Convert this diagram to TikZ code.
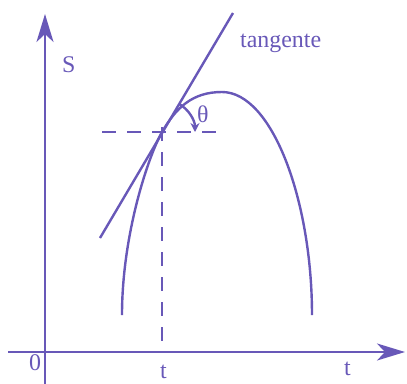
\documentclass[tikz,border=0pt]{standalone}
\usepackage{fontspec}
\setmainfont{Liberation Serif}
\usetikzlibrary{arrows.meta}
\definecolor{pur}{RGB}{104,88,184}
\begin{document}
\begin{tikzpicture}[x=1bp,y=-1bp,
  line/.style={draw=pur,line width=2.4bp},
  dsh/.style={line,dash pattern=on 14bp off 11bp},
  lbl/.style={text=pur,font=\fontsize{24}{28}\selectfont,inner sep=0pt,anchor=base west},
  tip/.style={-{Stealth[length=28bp,width=17bp,inset=8bp]}}]
\useasboundingbox (0,0) rectangle (407,384);
\coordinate (ybot) at (45,384);
\coordinate (ytop) at (45,14);
\coordinate (xl) at (8,352);
\coordinate (xr) at (405,352);
\coordinate (P) at (162,132);
\coordinate (Pt) at (162,352);
\coordinate (vt) at (162,127);
\coordinate (hl) at (102,132);
\coordinate (hr) at (217,132);
\coordinate (tl) at (100,238);
\coordinate (tr) at (233,13);
\coordinate (c0) at (122,315);
\coordinate (peak) at (222,92);
\coordinate (c1) at (312,315);
\draw[line,tip] (ybot) -- (ytop);
\draw[line,tip] (xl) -- (xr);
\draw[dsh] (hl) -- (hr);
\draw[dsh] (vt) -- (Pt);
\draw[line] (tl) -- (tr);
\draw[line] (c0) .. controls (122,235) and (148,157) .. (P)
  .. controls (176,108) and (192,92) .. (peak)
  .. controls (272,92) and (312,200) .. (c1);
\draw[line,-{Stealth[length=9bp,width=9bp]}] ([shift={(59:33bp)}]P) arc[start angle=-59,end angle=0,radius=33];
\node[lbl] (th) at (197,122) {θ};
\node[lbl] (tg) at (240,47) {tangente};
\node[lbl] (S) at (62,72) {S};
\node[lbl] (zero) at (29,370) {0};
\node[lbl] (t1) at (160,378) {t};
\node[lbl] (t2) at (344,375) {t};
\end{tikzpicture}
\end{document}
